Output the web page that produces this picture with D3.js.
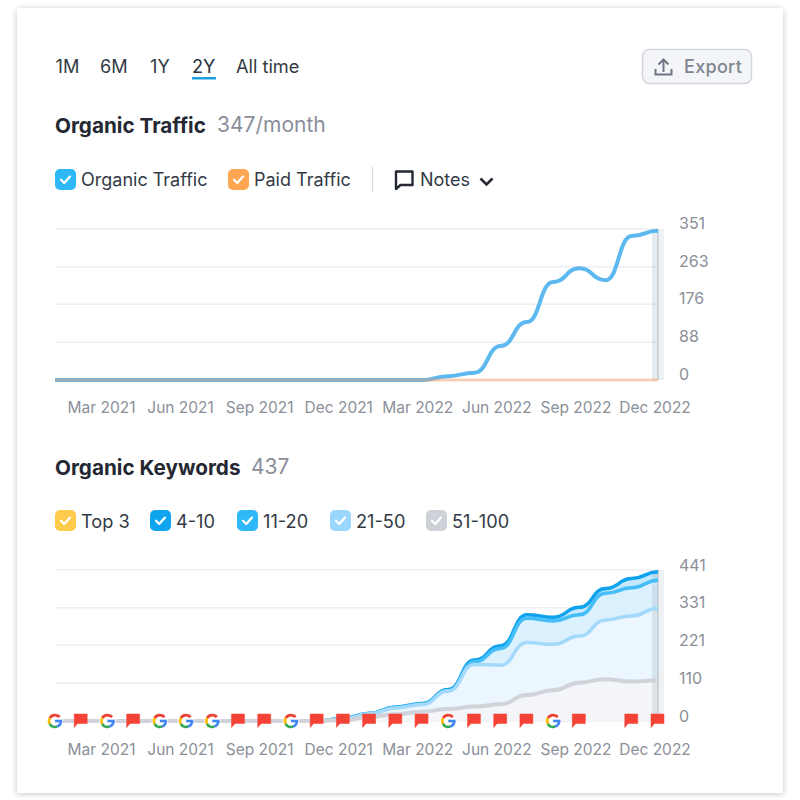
<!DOCTYPE html>
<html><head><meta charset="utf-8">
<script src="https://cdn.jsdelivr.net/npm/d3@7"></script>
<style>
html,body{margin:0;padding:0;background:#fff;width:800px;height:800px;overflow:hidden}
#card{position:absolute;left:17px;top:8px;width:766px;height:785px;background:#fff;box-shadow:0 1px 6px rgba(40,50,70,.28)}
svg{position:absolute;left:0;top:0;font-family:Inter,"Noto Sans",sans-serif}
</style></head><body><div id="card"></div><svg id="c" width="800" height="800"></svg>
<script>
// ---- data ----
const periods = ["1M","6M","1Y","2Y","All time"];
const months = ["Jan 2021","Feb 2021","Mar 2021","Apr 2021","May 2021","Jun 2021","Jul 2021","Aug 2021","Sep 2021","Oct 2021","Nov 2021","Dec 2021","Jan 2022","Feb 2022","Mar 2022","Apr 2022","May 2022","Jun 2022","Jul 2022","Aug 2022","Sep 2022","Oct 2022","Nov 2022","Dec 2022"];
const xTickMonths = ["Mar 2021","Jun 2021","Sep 2021","Dec 2021","Mar 2022","Jun 2022","Sep 2022","Dec 2022"];
const organicTraffic = [0,0,0,0,0,0,0,0,0,0,0,0,0,0,0,9,17,79,135,228,260,232,335,347];
const paidTraffic    = [0,0,0,0,0,0,0,0,0,0,0,0,0,0,0,0,0,0,0,0,0,0,0,0];
const trafficTicks = [0,88,176,263,351];
const top3Line   = [0,0,0,0,0,0,0,0,0,0,0,0,0,0,0,0,0,0,0,0,0,0,0,0];
const pos4to10   = [0,0,0,0,0,0,0,0,0,0,0,8,23,41,51,92,178,220,310,303,332,387,416,436];
const pos11to20  = [0,0,0,0,0,0,0,0,0,0,0,7,22,40,50,88,173,212,300,292,310,373,389,411];
const pos21to50  = [0,0,0,0,0,0,0,0,0,0,0,6,21,38,48,88,165,163,229,224,248,295,307,329];
const pos51to100 = [0,0,0,0,0,0,0,0,0,0,0,3,12,20,27,35,42,49,76,90,112,122,115,119];
const keywordTicks = [0,110,221,331,441];
const events = ["G","F","G","F","G","G","G","F","F","G","F","F","F","F","F","G","F","F","F","G","F","","F","F"];
const legendTraffic = ["Organic Traffic","Paid Traffic"];
const legendKeywords = ["Top 3","4-10","11-20","21-50","51-100"];

const svg = d3.select("#c");
const TXT="#333a45", GREY="#8b8f98", GRID="#eceef1";
const x = d3.scaleLinear().domain([0,months.length-1]).range([55,658]);
const xLabels = d3.scalePoint().domain(xTickMonths).range([101,654.5]);

function text(t,px,py,size,fill,weight,anchor){
  return svg.append("text").attr("x",px).attr("y",py).attr("font-size",size).attr("fill",fill)
    .attr("font-weight",weight||400).attr("text-anchor",anchor||"start").text(t);
}
function checkbox(px,py,color){
  const g=svg.append("g").attr("transform",`translate(${px},${py})`);
  g.append("rect").attr("width",21).attr("height",21).attr("rx",5).attr("fill",color);
  g.append("path").attr("d","M6 10.8l3.2 3.2 5.8-6.4").attr("fill","none").attr("stroke","#fff")
    .attr("stroke-width",2.3).attr("stroke-linecap","round").attr("stroke-linejoin","round");
}
function axes(top,maxV,ticks,labelY,tickDy){
  const y=d3.scaleLinear().domain([0,maxV]).range([top+151,top]);
  const gy=svg.append("g").attr("transform",`translate(658,${tickDy})`)
    .call(d3.axisRight(y).tickValues(ticks).tickSize(0).tickPadding(21).tickFormat(d3.format("d")));
  gy.select(".domain").remove();
  gy.selectAll("text").attr("font-size",16).attr("fill",GREY).attr("font-family","Inter").attr("dy","-0.05em");
  const gr=svg.append("g");
  gr.selectAll("line").data(ticks).join("line").attr("x1",x(0)).attr("x2",x(23))
    .attr("y1",d=>y(d)).attr("y2",d=>y(d)).attr("stroke",GRID).attr("stroke-width",1.5);
  const gx=svg.append("g").attr("transform",`translate(0,${labelY})`)
    .call(d3.axisBottom(xLabels).tickSize(0).tickPadding(0));
  gx.select(".domain").remove();
  gx.selectAll("text").attr("font-size",15.5).attr("fill",GREY).attr("font-family","Inter").attr("dy","0.35em");
  return y;
}
function band(top){
  svg.append("rect").attr("x",x(23)-6).attr("y",top).attr("width",6).attr("height",151).attr("fill","#8ea3b5").attr("opacity",.22);
  svg.append("rect").attr("x",x(23)).attr("y",top).attr("width",6).attr("height",151).attr("fill","#8ea3b5").attr("opacity",.14);
  svg.append("line").attr("x1",x(23)).attr("x2",x(23)).attr("y1",top).attr("y2",top+151).attr("stroke","#c3ccd3").attr("stroke-width",1.5);
}

// ---- header ----
[55.5,100,150,192,236].forEach((px,i)=>text(periods[i],px,73,18.2,i==3?"#2b3240":TXT));
svg.append("rect").attr("x",192).attr("y",77).attr("width",24).attr("height",2.5).attr("fill","#1d9fe0");
svg.append("rect").attr("x",642.5).attr("y",49.5).attr("width",109).attr("height",34).attr("rx",7).attr("fill","#f4f5f9").attr("stroke","#d3d6de").attr("stroke-width",1.5);
svg.append("path").attr("d","M663.5 72V60M658.5 64.5l5-5 5 5M655.5 69v5.5h16V69").attr("fill","none").attr("stroke","#6f7583").attr("stroke-width",2);
text("Export",684,73,18,"#80858f",500).attr("letter-spacing",.3);

// ---- traffic ----
text("Organic Traffic",55,133,20.7,"#232833",700);
text("347/month",217,132,21,"#8a8e9b");
checkbox(55,169,"#2fb8f8"); text(legendTraffic[0],81,186,18,TXT);
checkbox(228,169,"#ffa652"); text(legendTraffic[1],254,186,18,TXT);
svg.append("line").attr("x1",372.5).attr("x2",372.5).attr("y1",167).attr("y2",192).attr("stroke","#d8dade").attr("stroke-width",1.2);
svg.append("path").attr("d","M396 171.5h16.5v13.5h-12l-4.5 4z").attr("fill","none").attr("stroke","#232833").attr("stroke-width",2.4).attr("stroke-linejoin","round");
text("Notes",420,186,18,TXT);
svg.append("path").attr("d","M480.5 178.5l6 6 6-6").attr("fill","none").attr("stroke","#232833").attr("stroke-width",2.6);

const y1=axes(229,351,trafficTicks,408,0);
band(229);
const lineOf=y=>d3.line().x((d,i)=>x(i)).y(d=>y(d)).curve(d3.curveBumpX);
svg.append("path").attr("d",lineOf(y1)(organicTraffic)).attr("fill","none").attr("stroke","#5cb8ee").attr("stroke-width",4);
svg.append("path").attr("d",lineOf(y1)(paidTraffic)).attr("fill","none").attr("stroke","#fb9d5c").attr("stroke-width",3).attr("opacity",.42);

// ---- keywords ----
text("Organic Keywords",55,475,20.7,"#232833",700);
text("437",251,474,21,"#8a8e9b");
const legendColors=["#ffcb4d","#0ea5ee","#2fb8f8","#9bd6ff","#cfd1d8"];
[55,150,237,330,426].forEach((px,i)=>{
  checkbox(px,510,legendColors[i]);
  text(legendKeywords[i],px+26,528,18.2,TXT);
});
const y2=axes(570,441,keywordTicks,750,1);
const series=[top3Line,pos4to10,pos11to20,pos21to50,pos51to100];
const fills=[null,"#c4e8fc","#dcf1fe","#ebf6fe","#f4f5f8"];
[4,3,2,1].forEach(s=>{
  const lo=s==4?top3Line:series[s+1];
  const a=d3.area().x((d,i)=>x(i)).y0((d,i)=>y2(lo[i])).y1(d=>y2(d)).curve(d3.curveBumpX);
  svg.append("path").attr("d",a(series[s])).attr("fill",fills[s]);
});
band(570);
[1,2,3,4].forEach(s=>{
  const c=["","#0fa2ee","#45bdf6","#a3d9fb","#d0d3da"][s];
  svg.append("path").attr("d",lineOf(y2)(series[s])).attr("fill","none").attr("stroke",c).attr("stroke-width",s==4?4:3.5);
});

// ---- event markers ----
const arc=d3.arc().innerRadius(4.6).outerRadius(7.3);
const deg=Math.PI/180;
const gParts=[["#ea4335",-60,50],["#fbbc05",-118,-60],["#34a853",160,242],["#4285f4",90,160]];
events.forEach((e,i)=>{
  const g=svg.append("g").attr("transform",`translate(${x(i)},721)`);
  if(e=="F"){
    g.append("path").attr("transform","translate(-0.5,0)").attr("d","M-6.5 -7h13v9.5h-9.5l-3.5 4z").attr("fill","#f44336").attr("stroke","#f44336").attr("stroke-width",.5).attr("stroke-linejoin","round");
  } else if(e=="G"){
    g.append("circle").attr("r",8.3).attr("fill","#fff");
    gParts.forEach(p=>g.append("path").attr("d",arc({startAngle:p[1]*deg,endAngle:p[2]*deg})).attr("fill",p[0]));
    g.append("rect").attr("x",0).attr("y",-1.3).attr("width",7.2).attr("height",2.6).attr("fill","#4285f4");
  }
});
</script></body></html>
